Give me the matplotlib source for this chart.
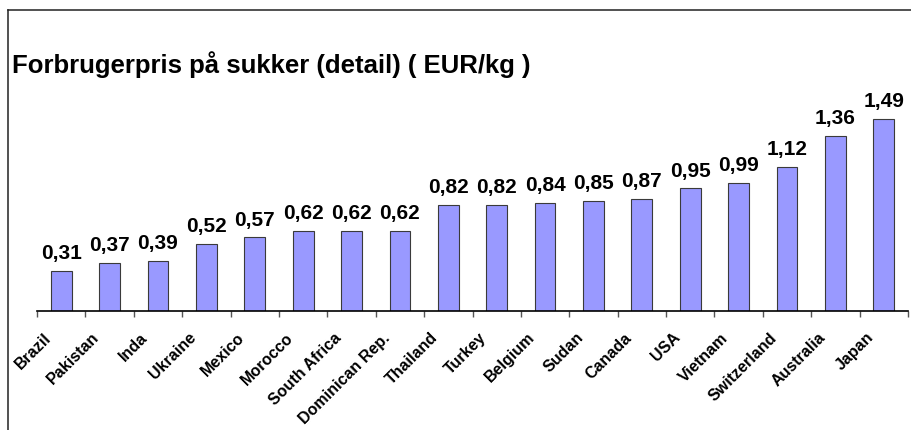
import matplotlib
matplotlib.use('Agg')
import matplotlib.pyplot as plt
import matplotlib.transforms as mtransforms
from matplotlib.lines import Line2D

plt.rcParams['font.family'] = ['Liberation Sans', 'DejaVu Sans']

countries = ['Brazil', 'Pakistan', 'Inda', 'Ukraine', 'Mexico', 'Morocco',
             'South Africa', 'Dominican Rep.', 'Thailand', 'Turkey', 'Belgium',
             'Sudan', 'Canada', 'USA', 'Vietnam', 'Switzerland', 'Australia', 'Japan']
prices = [0.31, 0.37, 0.39, 0.52, 0.57, 0.62, 0.62, 0.62, 0.82, 0.82, 0.84,
          0.85, 0.87, 0.95, 0.99, 1.12, 1.36, 1.49]
title = 'Forbrugerpris på sukker (detail) ( EUR/kg )'

fig = plt.figure(figsize=(9.12, 4.30), dpi=100)
fig.patch.set_facecolor('white')

# outer frame: only left and top edges are visible
fx, fy = 8 / 912, 1 - 10 / 430
fig.add_artist(Line2D([fx, fx], [0, fy], transform=fig.transFigure,
                      color='#222222', linewidth=1.1))
fig.add_artist(Line2D([fx, 1], [fy, fy], transform=fig.transFigure,
                      color='#222222', linewidth=1.1))

ax = fig.add_axes([37 / 912, (430 - 311) / 430, (908 - 37) / 912, 206.4 / 430])
x = list(range(len(countries)))
ax.bar(x, prices, width=0.43, color='#9999FF', edgecolor='#3a3a3a', linewidth=0.8)

for xi, v in zip(x, prices):
    ax.annotate(f'{v:.2f}'.replace('.', ','), (xi, v), xytext=(0, 8.6),
                textcoords='offset points', ha='center', va='baseline',
                fontsize=15, fontweight='bold')

ax.set_xlim(-0.5, len(countries) - 0.5)
ax.set_ylim(0, 1.6)
for s in ['left', 'top', 'right']:
    ax.spines[s].set_visible(False)
ax.spines['bottom'].set_linewidth(1.2)
ax.set_yticks([])

# boundary tick marks
ax.set_xticks([i - 0.5 for i in range(len(countries) + 1)])
ax.set_xticklabels([])
ax.tick_params(axis='x', which='major', length=4, width=1, color='#555555', direction='out')

# rotated category labels, top-right corner a little left of and below each bar
shift = mtransforms.ScaledTranslation(-0.18, -0.19, fig.dpi_scale_trans)
for xi, name in zip(x, countries):
    ax.text(xi, 0, name, transform=ax.get_xaxis_transform() + shift,
            rotation=45, ha='right', va='top', rotation_mode='anchor',
            fontsize=11.5, fontweight='bold')

fig.text(12 / 912, 1 - 73 / 430, title, ha='left', va='baseline',
         fontsize=18.5, fontweight='bold')

fig.savefig('out.png', dpi=100, facecolor='white')
